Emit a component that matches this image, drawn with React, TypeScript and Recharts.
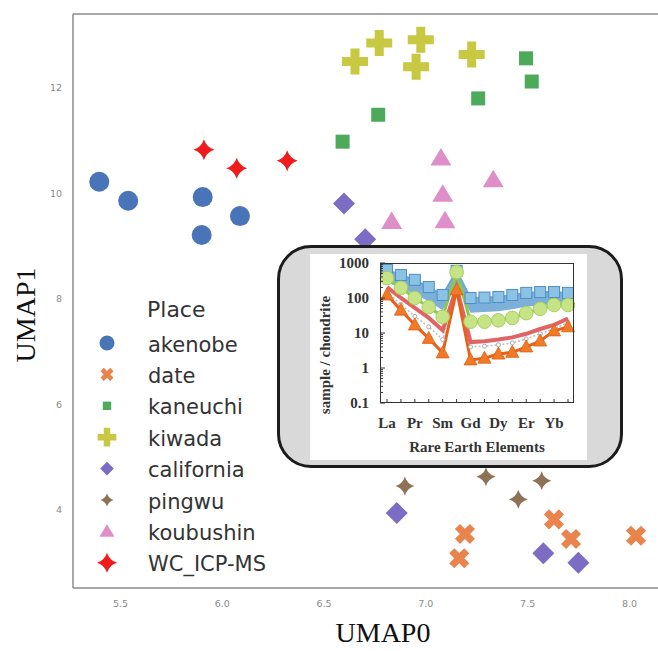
import React from "react";
import {
  ScatterChart,
  Scatter,
  XAxis,
  YAxis,
  ReferenceLine,
  ComposedChart,
  Line,
  Area,
} from "recharts";

// main scatter axes
const X_MIN = 5.267;
const X_MAX = 8.312;
const Y_MIN = 2.52;
const Y_MAX = 13.4;
const X_TICKS = [5.5, 6.0, 6.5, 7.0, 7.5, 8.0];
const Y_TICKS = [4, 6, 8, 10, 12];

// UMAP points per place
const akenobe = [
  { x: 5.396, y: 10.22 },
  { x: 5.538, y: 9.86 },
  { x: 5.904, y: 9.93 },
  { x: 5.899, y: 9.21 },
  { x: 6.087, y: 9.57 },
];
const date = [
  { x: 7.192, y: 3.545 },
  { x: 7.164, y: 3.085 },
  { x: 7.629, y: 3.82 },
  { x: 7.713, y: 3.45 },
  { x: 8.032, y: 3.51 },
];
const kaneuchi = [
  { x: 6.591, y: 10.98 },
  { x: 6.766, y: 11.49 },
  { x: 7.257, y: 11.8 },
  { x: 7.492, y: 12.56 },
  { x: 7.52, y: 12.12 },
];
const kiwada = [
  { x: 6.652, y: 12.5 },
  { x: 6.771, y: 12.85 },
  { x: 6.975, y: 12.91 },
  { x: 6.952, y: 12.4 },
  { x: 7.225, y: 12.63 },
];
const california = [
  { x: 6.598, y: 9.81 },
  { x: 6.702, y: 9.13 },
  { x: 6.857, y: 3.94 },
  { x: 7.577, y: 3.18 },
  { x: 7.749, y: 3.0 },
];
const pingwu = [
  { x: 6.897, y: 4.455 },
  { x: 7.295, y: 4.63 },
  { x: 7.454, y: 4.2 },
  { x: 7.569, y: 4.555 },
];
const koubushin = [
  { x: 7.074, y: 10.67 },
  { x: 7.331, y: 10.26 },
  { x: 7.083, y: 9.985 },
  { x: 7.094, y: 9.48 },
  { x: 6.832, y: 9.465 },
];
const wcIcpMs = [
  { x: 5.91, y: 10.825 },
  { x: 6.071, y: 10.478 },
  { x: 6.319, y: 10.62 },
];

type Kind = "circle" | "x" | "square" | "plus" | "diamond" | "spark" | "triangle" | "star";

const SERIES: { name: string; data: { x: number; y: number }[]; color: string; kind: Kind; ls: number }[] = [
  { name: "akenobe", data: akenobe, color: "#4a74b8", kind: "circle", ls: 0.75 },
  { name: "date", data: date, color: "#e8844c", kind: "x", ls: 0.65 },
  { name: "kaneuchi", data: kaneuchi, color: "#4daa5a", kind: "square", ls: 0.6 },
  { name: "kiwada", data: kiwada, color: "#c8c842", kind: "plus", ls: 0.72 },
  { name: "california", data: california, color: "#7c6cc4", kind: "diamond", ls: 0.62 },
  { name: "pingwu", data: pingwu, color: "#8e7256", kind: "spark", ls: 0.7 },
  { name: "koubushin", data: koubushin, color: "#de8fca", kind: "triangle", ls: 0.72 },
  { name: "WC_ICP-MS", data: wcIcpMs, color: "#ee1c1c", kind: "star", ls: 0.95 },
];

// inset REE pattern
const REE = ["La", "Ce", "Pr", "Nd", "Sm", "Eu", "Gd", "Tb", "Dy", "Ho", "Er", "Tm", "Yb", "Lu"];
const blueHi = [630, 455, 330, 205, 122, 600, 100, 103, 107, 122, 140, 148, 148, 140];
const blueLo = [280, 190, 130, 80, 45, 260, 38, 40, 42, 48, 56, 62, 66, 70];
const green = [370, 195, 100, 55, 29, 550, 21, 21, 23, 27, 37, 49, 63, 63];
const red = [205, 100, 52, 27, 12, 200, 5.5, 5.8, 6.5, 7.5, 9.5, 13, 17, 26];
const gray = [150, 65, 30, 15, 6.5, 150, 4, 4.2, 4.6, 5.2, 6.8, 9.5, 13, 20];
const orange = [122, 45, 17, 7, 2.7, 170, 1.7, 1.9, 2.5, 2.8, 4, 5.9, 11.5, 15];
const INSET_Y_TICKS = [0.1, 1, 10, 100, 1000];
const INSET_X_LABELS = ["La", "Pr", "Sm", "Gd", "Dy", "Er", "Yb"];
const MINOR = [2, 3, 4, 5, 6, 7, 8, 9];
const INSET_ALL_TICKS = [
  ...INSET_Y_TICKS,
  ...INSET_Y_TICKS.slice(0, 4).flatMap((d) => MINOR.map((m) => +(d * m).toPrecision(2))),
].sort((a, b) => a - b);

const insetData = REE.map((el, i) => ({
  el,
  band: [blueLo[i], blueHi[i]],
  blueHi: blueHi[i],
  green: green[i],
  red: red[i],
  gray: gray[i],
  orange: orange[i],
}));

const plusPts = (cx: number, cy: number, L: number, t: number, rot: boolean) => {
  const pts = [
    [-t, -L], [t, -L], [t, -t], [L, -t], [L, t], [t, t],
    [t, L], [-t, L], [-t, t], [-L, t], [-L, -t], [-t, -t],
  ];
  return pts
    .map(([x, y]) => (rot ? [(x - y) * Math.SQRT1_2, (x + y) * Math.SQRT1_2] : [x, y]))
    .map(([x, y]) => `${cx + x},${cy + y}`)
    .join(" ");
};

const starPath = (cx: number, cy: number, R: number, c: number) =>
  `M${cx},${cy - R} Q${cx + c},${cy - c} ${cx + R},${cy} Q${cx + c},${cy + c} ${cx},${cy + R} ` +
  `Q${cx - c},${cy + c} ${cx - R},${cy} Q${cx - c},${cy - c} ${cx},${cy - R}Z`;

const drawMarker = (kind: Kind, cx: number, cy: number, s: number, fill: string) => {
  switch (kind) {
    case "circle":
      return <circle cx={cx} cy={cy} r={10 * s} fill={fill} />;
    case "x":
      return <polygon points={plusPts(cx, cy, 10.6 * s, 3.6 * s, true)} fill={fill} />;
    case "square":
      return <rect x={cx - 7 * s} y={cy - 7 * s} width={14 * s} height={14 * s} fill={fill} />;
    case "plus":
      return <polygon points={plusPts(cx, cy, 13 * s, 4.5 * s, false)} fill={fill} />;
    case "diamond":
      return (
        <polygon
          points={`${cx},${cy - 11 * s} ${cx + 11 * s},${cy} ${cx},${cy + 11 * s} ${cx - 11 * s},${cy}`}
          fill={fill}
        />
      );
    case "spark":
      return <path d={starPath(cx, cy, 9.5 * s, 2.1 * s)} fill={fill} />;
    case "triangle":
      return (
        <polygon
          points={`${cx},${cy - 10 * s} ${cx + 10.5 * s},${cy + 7.5 * s} ${cx - 10.5 * s},${cy + 7.5 * s}`}
          fill={fill}
        />
      );
    case "star":
      return <path d={starPath(cx, cy, 10.5 * s, 2.5 * s)} fill={fill} />;
  }
};

const serif = "'Liberation Serif', 'DejaVu Serif', serif";
const sans = "'DejaVu Sans', sans-serif";

const InsetYTick = (p: any) => {
  const v = p.payload.value;
  const major = INSET_Y_TICKS.includes(v);
  return (
    <g>
      <line x1={p.x} x2={p.x + (major ? 5 : 3)} y1={p.y} y2={p.y} stroke="#333" strokeWidth={1} />
      {major && (
        <text x={p.x - 11} y={p.y + 5} textAnchor="end" fontFamily={serif} fontWeight={700} fontSize={15} fill="#333">
          {v}
        </text>
      )}
    </g>
  );
};

const InsetXTick = (p: any) => {
  const v = p.payload.value;
  return (
    <g>
      <line x1={p.x} x2={p.x} y1={p.y} y2={p.y - 4} stroke="#333" strokeWidth={1} />
      {INSET_X_LABELS.includes(v) && (
        <text x={p.x} y={p.y + 25} textAnchor="middle" fontFamily={serif} fontWeight={700} fontSize={15} fill="#333">
          {v}
        </text>
      )}
    </g>
  );
};

const squareDot = (p: any) => (
  <rect key={p.index} x={p.cx - 5.5} y={p.cy - 5.5} width={11} height={11} fill="#8cc2e4" stroke="#4f8fc0" strokeWidth={1} />
);
const circleDot = (p: any) => (
  <circle key={p.index} cx={p.cx} cy={p.cy} r={6.8} fill="#c6e486" stroke="#a6d05e" strokeWidth={1} />
);
const triDot = (p: any) => (
  <polygon
    key={p.index}
    points={`${p.cx},${p.cy - 7} ${p.cx + 6.5},${p.cy + 5} ${p.cx - 6.5},${p.cy + 5}`}
    fill="#f07a28"
    stroke="#e06010"
    strokeWidth={0.8}
  />
);
const grayDot = (p: any) => (
  <circle key={p.index} cx={p.cx} cy={p.cy} r={2} fill="#fff" stroke="#aaa" strokeWidth={1} />
);

const Inset = () => (
  <>
    <div
      style={{
        position: "absolute",
        left: 277,
        top: 245,
        width: 346,
        height: 223,
        border: "3px solid #1c1c1c",
        borderRadius: 34,
        background: "#d9d9d9",
        boxSizing: "border-box",
      }}
    />
    <div style={{ position: "absolute", left: 310, top: 254, width: 277, height: 206, background: "#fff" }}>
      <ComposedChart width={277} height={206} data={insetData} margin={{ top: 9, right: 13, bottom: 0, left: 0 }}>
        <XAxis
          dataKey="el"
          type="category"
          interval={0}
          padding={{ left: 7, right: 6 }}
          height={57}
          tickSize={0}
          tickMargin={0}
          tickLine={false}
          axisLine={false}
          tick={InsetXTick}
          label={{
            value: "Rare Earth Elements",
            position: "insideBottom",
            offset: 8,
            fontFamily: serif,
            fontWeight: 700,
            fontSize: 15,
            fill: "#333",
          }}
        />
        <YAxis
          type="number"
          scale="log"
          domain={[0.1, 1000]}
          allowDataOverflow
          ticks={INSET_ALL_TICKS}
          interval={0}
          width={70}
          tickSize={0}
          tickMargin={0}
          tickLine={false}
          axisLine={false}
          tick={InsetYTick}
          label={{
            value: "sample / chondrite",
            angle: -90,
            position: "insideLeft",
            offset: 15,
            dy: 22,
            fontFamily: serif,
            fontWeight: 700,
            fontSize: 15,
            fill: "#333",
            style: { textAnchor: "middle" },
          }}
        />
        <Area dataKey="band" type="linear" stroke="none" fill="#5b9bd0" fillOpacity={0.8} isAnimationActive={false} />
        <Line dataKey="blueHi" type="linear" stroke="#6aa8d8" strokeWidth={2} dot={squareDot} isAnimationActive={false} />
        <Line
          dataKey="gray"
          type="linear"
          stroke="#bbb"
          strokeWidth={1.5}
          strokeDasharray="2 2"
          dot={grayDot}
          isAnimationActive={false}
        />
        <Line dataKey="red" type="linear" stroke="#e06464" strokeWidth={4} dot={false} isAnimationActive={false} />
        <Line dataKey="orange" type="linear" stroke="#e8601c" strokeWidth={3} dot={triDot} isAnimationActive={false} />
        <Line dataKey="green" type="linear" stroke="#8cc84a" strokeWidth={3} dot={circleDot} isAnimationActive={false} />
      </ComposedChart>
    </div>
    <div
      style={{
        position: "absolute",
        left: 380,
        top: 263,
        width: 194,
        height: 140,
        border: "1.5px solid #333",
        boxSizing: "border-box",
        pointerEvents: "none",
      }}
    />
  </>
);

const LegendBox = () => (
  <svg style={{ position: "absolute", left: 0, top: 0 }} width={300} height={600}>
    <text x={147} y={317} fontFamily={sans} fontSize={22} fill="#333">
      Place
    </text>
    {SERIES.map((s, i) => {
      const cy = 343 + i * 31.4;
      return (
        <g key={s.name}>
          {drawMarker(s.kind, 107, cy, s.ls, s.color)}
          <text x={148} y={cy + 8.5} fontFamily={sans} fontSize={21} fill="#333">
            {s.name}
          </text>
        </g>
      );
    })}
  </svg>
);

export default function App() {
  return (
    <div
      style={{
        position: "absolute",
        left: 0,
        top: 0,
        width: 658,
        height: 651,
        overflow: "hidden",
        background: "#fff",
      }}
    >
      <ScatterChart width={760} height={651} margin={{ top: 14, right: 67, bottom: 0, left: 0 }}>
        <XAxis
          type="number"
          dataKey="x"
          domain={[X_MIN, X_MAX]}
          allowDataOverflow
          ticks={X_TICKS}
          tickFormatter={(v: number) => v.toFixed(1)}
          height={63}
          tickSize={0}
          tickMargin={12}
          tickLine={false}
          axisLine={{ stroke: "#8a8a8a", strokeWidth: 1.5 }}
          tick={{ fill: "#8a8a8a", fontSize: 9.5, fontFamily: sans }}
          label={{
            value: "UMAP0",
            position: "insideBottom",
            offset: 9,
            fontFamily: serif,
            fontSize: 28,
            fill: "#111",
          }}
        />
        <YAxis
          type="number"
          dataKey="y"
          domain={[Y_MIN, Y_MAX]}
          allowDataOverflow
          ticks={Y_TICKS}
          width={73}
          tickSize={0}
          tickMargin={11}
          tickLine={false}
          axisLine={{ stroke: "#8a8a8a", strokeWidth: 1.5 }}
          tick={{ fill: "#8a8a8a", fontSize: 9.5, fontFamily: sans }}
          label={{
            value: "UMAP1",
            angle: -90,
            position: "insideLeft",
            offset: 25,
            dy: 14,
            fontFamily: serif,
            fontSize: 28,
            fill: "#111",
            style: { textAnchor: "middle" },
          }}
        />
        <ReferenceLine y={Y_MAX} stroke="#8a8a8a" strokeWidth={1.5} />
        {SERIES.map((s) => (
          <Scatter
            key={s.name}
            name={s.name}
            data={s.data}
            isAnimationActive={false}
            shape={(p: any) => drawMarker(s.kind, p.cx, p.cy, 1, s.color)}
          />
        ))}
      </ScatterChart>
      <LegendBox />
      <Inset />
    </div>
  );
}
